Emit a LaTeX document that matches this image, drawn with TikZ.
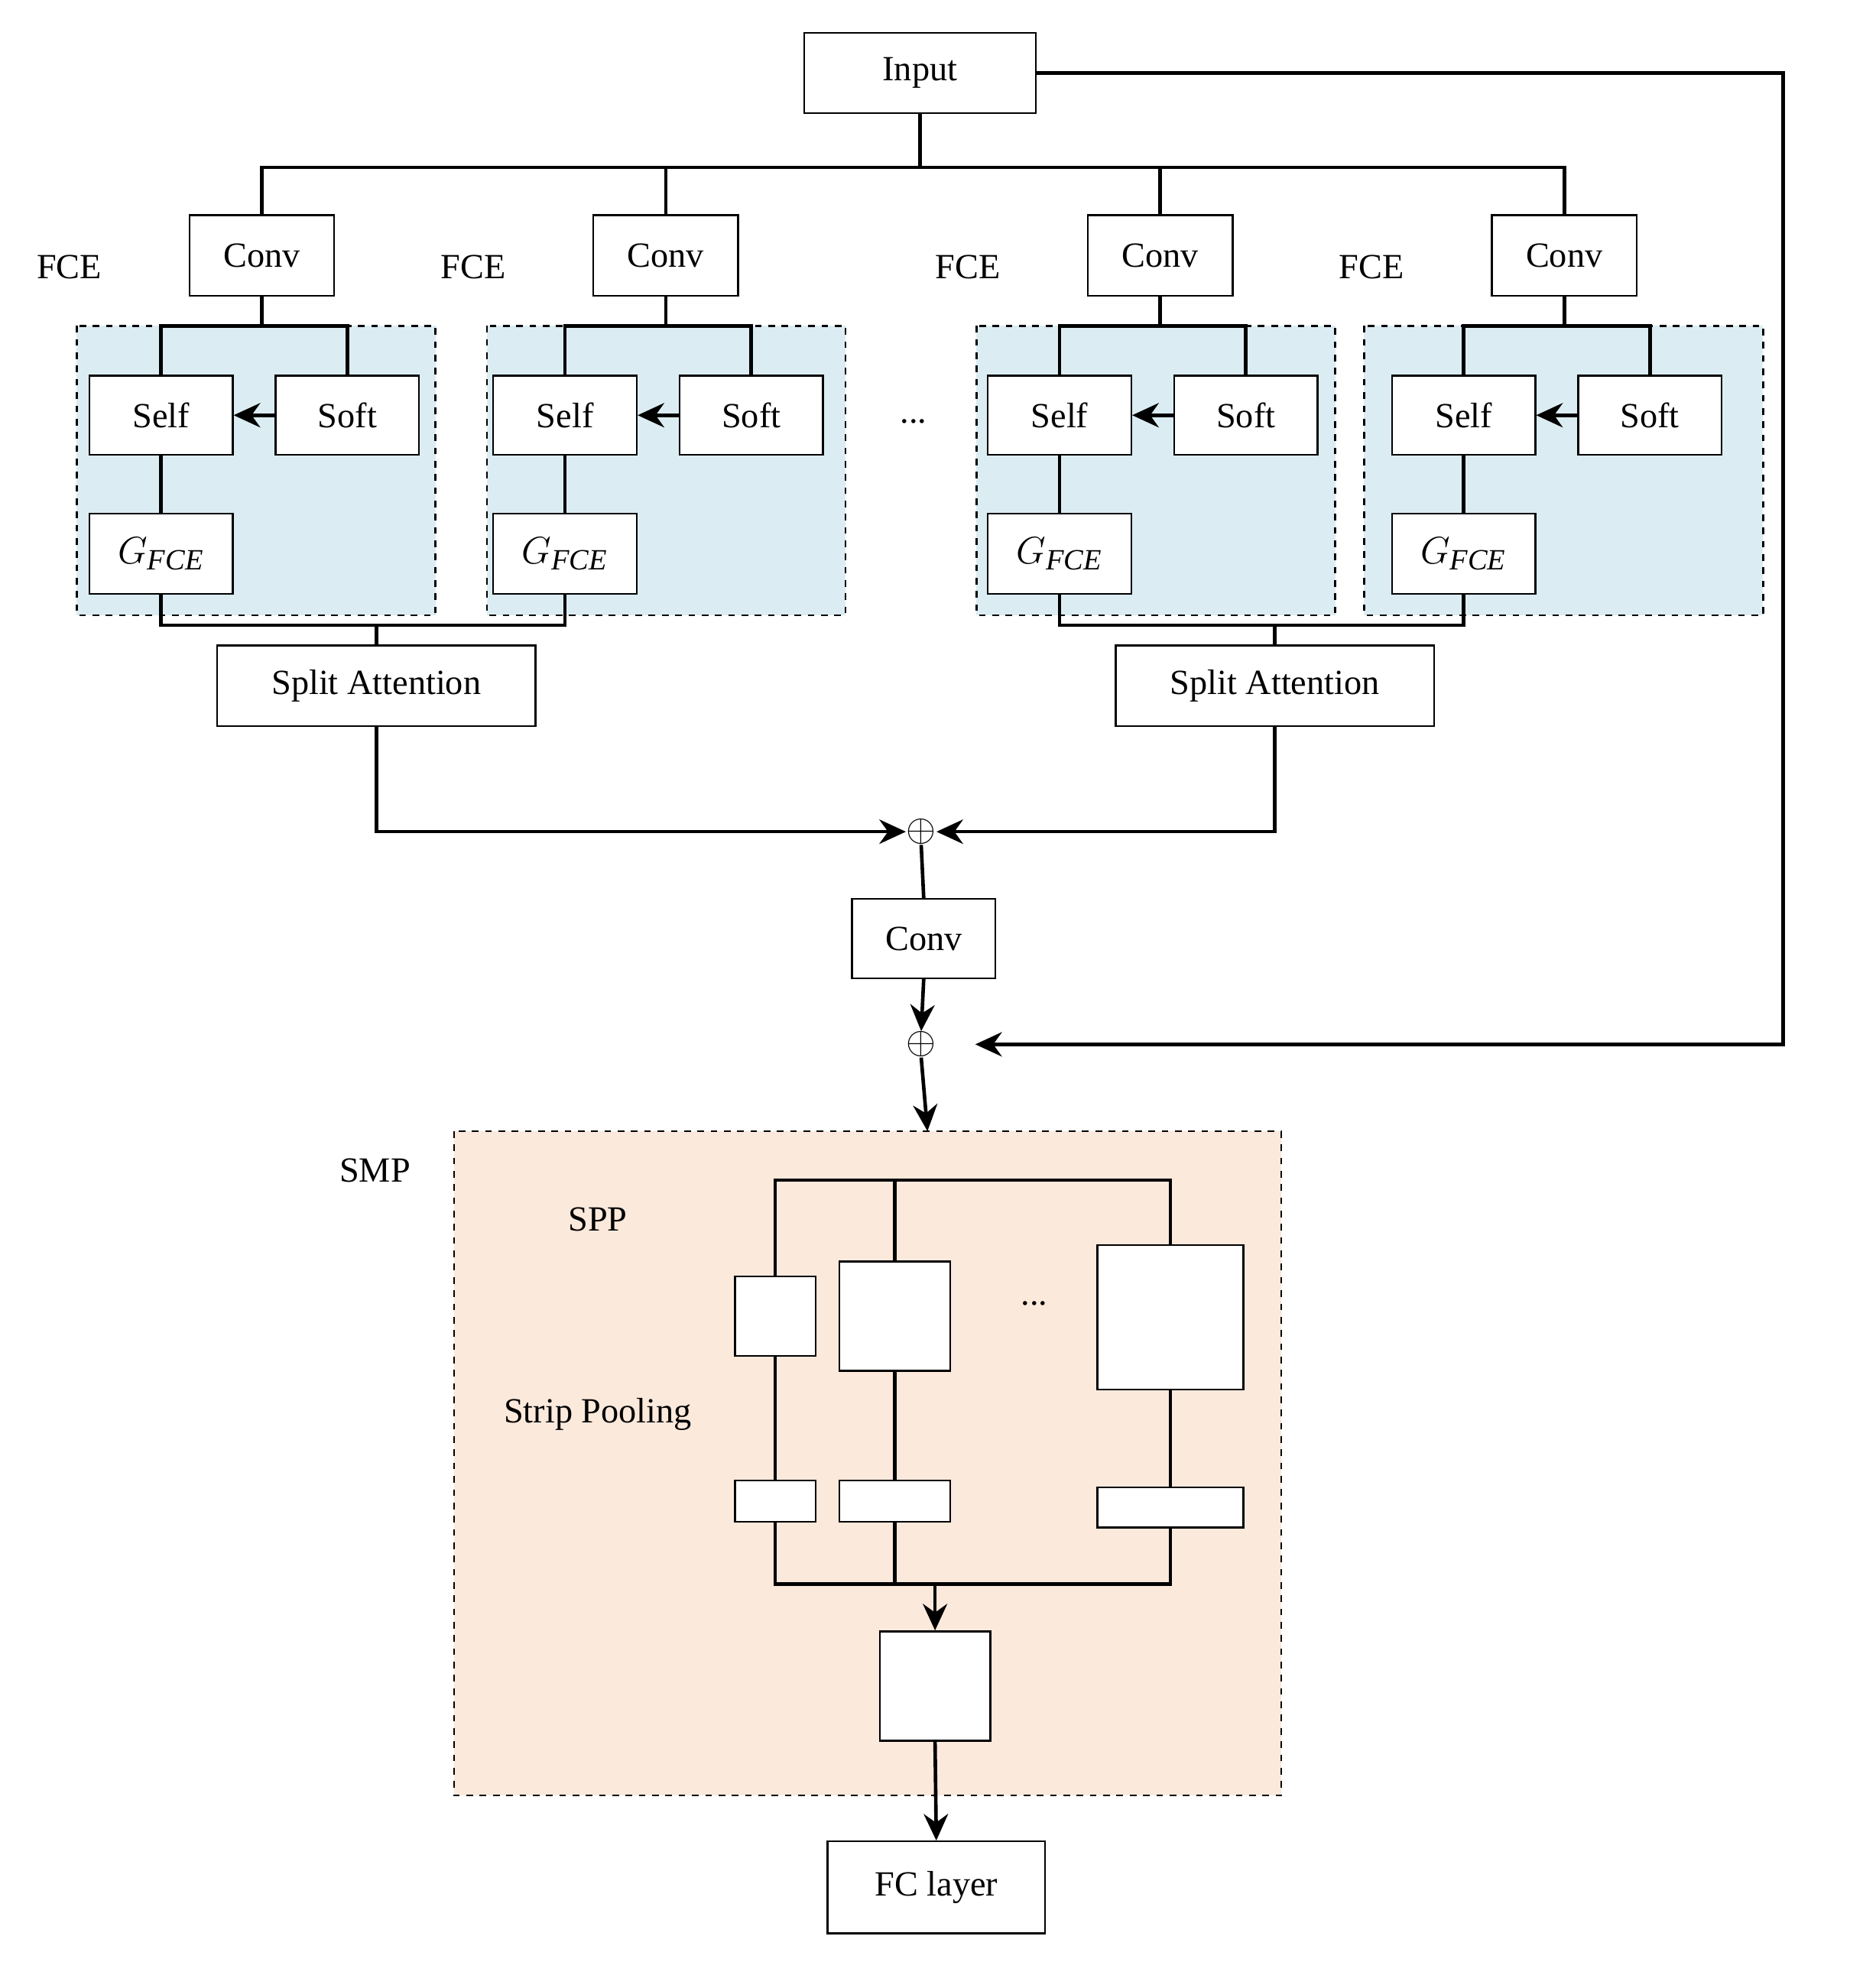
\documentclass[tikz,border=0pt]{standalone}
\usepackage{fontspec}
\setmainfont{Liberation Serif}
\usetikzlibrary{arrows.meta}
\begin{document}
\begin{tikzpicture}[x=0.02cm,y=-0.02cm,
  box/.style={draw,line width=0.8pt,fill=white,inner sep=0pt,font=\fontsize{16}{18}\selectfont},
  ln/.style={line width=1.6pt},
  ar/.style={line width=1.6pt,-{Stealth[length=12pt,width=11pt]}},
  grp/.style={draw,dashed,line width=0.8pt,fill=blue!10!cyan!8!white},
  lbl/.style={font=\fontsize{16}{18}\selectfont},
  pl/.style={inner sep=0pt,font=\fontsize{16}{18}\selectfont}]
\useasboundingbox (0,0) rectangle (1470,1580);
\definecolor{bluef}{HTML}{DBEDF3}
\definecolor{peach}{HTML}{FBE9DC}
% groups
\foreach \x/\w [count=\i] in {61/285,387/285,776/285,1084/317}{
  \fill[bluef] (\x,259) rectangle ++(\w,230);
  \draw[dashed,line width=0.8pt] (\x,259) rectangle ++(\w,230);
}
\node[box,minimum width=3.68cm,minimum height=1.28cm] (in) at (731,58) {Input};
\coordinate (bus) at (731,133);
\foreach \cx/\o [count=\i] in {208/0,529/321,922/714,1243/1035}{
  \node[box,minimum width=2.3cm,minimum height=1.28cm] (c\i) at (\cx,203) {Conv};
  \node[box,minimum width=2.28cm,minimum height=1.26cm] (s\i) at (128+\o,330) {Self};
  \node[box,minimum width=2.28cm,minimum height=1.26cm] (t\i) at (276+\o,330) {Soft};
  \node[box,minimum width=2.28cm,minimum height=1.28cm] (g\i) at (128+\o,440) {\fontsize{19}{20}\selectfont$G_{\mathit{FCE}}$};
  \draw[ln] (c\i.south) -- (\cx,259);
  \draw[ln] (s\i.north) -- (128+\o,259) -- (276+\o,259) -- (t\i.north);
  \draw[ar] (t\i.west) -- (s\i.east);
  \draw[ln] (s\i) -- (g\i);
}
\foreach \x in {55,376,769,1090}{\node[lbl] at (\x,212) {FCE};}
\draw[ln] (c1.north) -- (208,133) -- (1243,133) -- (c4.north);
\draw[ln] (c2.north) -- (529,133);
\draw[ln] (c3.north) -- (922,133);
\draw[ln] (in.south) -- (bus);
\node[lbl] at (726,335) {...};
\node[box,minimum width=5.06cm,minimum height=1.28cm] (sa1) at (299,545) {Split Attention};
\node[box,minimum width=5.06cm,minimum height=1.28cm] (sa2) at (1013,545) {Split Attention};
\draw[ln] (g1.south) -- (128,497) -- (449,497) -- (g2.south);
\draw[ln] (299,497) -- (sa1.north);
\draw[ln] (g3.south) -- (842,497) -- (1163,497) -- (g4.south);
\draw[ln] (1013,497) -- (sa2.north);
\node[pl] (p1) at (732,661) {$\oplus$};
\draw[ar] (sa1.south) -- (299,661) -- (p1.west);
\draw[ar] (sa2.south) -- (1013,661) -- (p1.east);
\node[box,minimum width=2.28cm,minimum height=1.26cm] (c5) at (734,746) {Conv};
\draw[ln] (p1.south) -- (c5.north);
\node[pl] (p2) at (732,830) {$\oplus$};
\draw[ar] (c5.south) -- (p2.north);
\coordinate (r1) at (1417,58);
\coordinate (r2) at (1417,830);
\coordinate (r3) at (775,830);
\draw[ar] (in.east) -- (r1) -- (r2) -- (r3);
% SMP
\fill[peach] (361,899) rectangle (1018,1427);
\draw[dashed,line width=0.8pt] (361,899) rectangle (1018,1427);
\coordinate (smptop) at (737,899);
\draw[ar] (p2.south) -- (smptop);
\node[lbl] at (298,930) {SMP};
\node[lbl] at (475,969) {SPP};
\node[lbl] at (475,1124) {Strip Pooling};
\node[lbl] at (822,1036) {...};
\node[box,minimum width=1.28cm,minimum height=1.26cm] (a1) at (616,1046) {};
\node[box,minimum width=1.76cm,minimum height=1.74cm] (a2) at (711,1046) {};
\node[box,minimum width=2.32cm,minimum height=2.3cm] (a3) at (930,1047) {};
\node[box,minimum width=1.28cm,minimum height=0.66cm] (b1) at (616,1193) {};
\node[box,minimum width=1.76cm,minimum height=0.66cm] (b2) at (711,1193) {};
\node[box,minimum width=2.32cm,minimum height=0.64cm] (b3) at (930,1198) {};
\draw[ln] (a1.north) -- (616,938) -- (930,938) -- (a3.north);
\draw[ln] (a2.north) -- (711,938);
\foreach \i in {1,2,3}{\draw[ln] (a\i) -- (b\i);}
\draw[ln] (b1.south) -- (616,1259) -- (930,1259) -- (b3.south);
\draw[ln] (b2.south) -- (711,1259);
\node[box,minimum width=1.76cm,minimum height=1.74cm] (d) at (743,1340) {};
\draw[ar] (743,1259) -- (d.north);
\node[box,minimum width=3.46cm,minimum height=1.46cm] (fc) at (744,1500) {FC layer};
\draw[ar] (d.south) -- (fc.north);
\end{tikzpicture}
\end{document}
